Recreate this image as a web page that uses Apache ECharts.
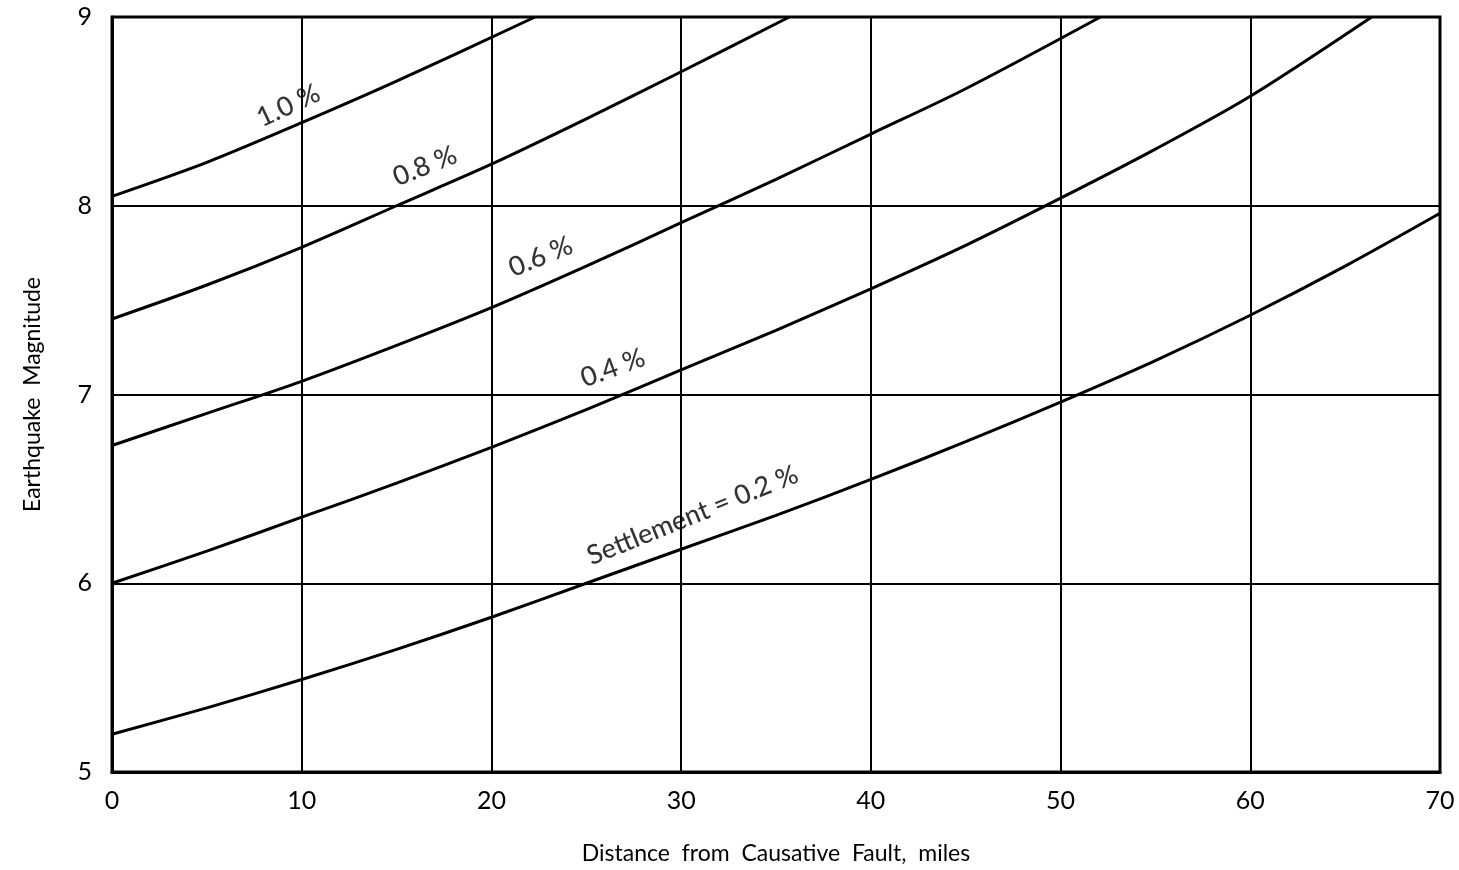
<!DOCTYPE html>
<html>
<head>
<meta charset="utf-8">
<script src="https://cdn.jsdelivr.net/npm/echarts@6/dist/echarts.min.js"></script>
<style>
html,body{margin:0;padding:0;background:#fff;}
#chart{width:1459px;height:870px;}
</style>
</head>
<body>
<div id="chart"></div>
<script>
// Curves: [distance (miles), magnitude]
var curve02 = [[0,5.20],[5,5.34],[10,5.49],[15,5.65],[20,5.82],[25,6.0],[30,6.18],[35,6.36],[40,6.55],[45,6.75],[50,6.96],[55,7.18],[60,7.42],[65,7.68],[70,7.96]];
var curve04 = [[0,6.0],[5,6.17],[10,6.35],[15,6.53],[20,6.72],[25,6.92],[30,7.13],[35,7.34],[40,7.56],[45,7.79],[50,8.04],[55,8.30],[60,8.58],[66.4,9.0]];
var curve06 = [[0,6.73],[5,6.90],[10,7.07],[15,7.26],[20,7.46],[25,7.68],[30,7.91],[35,8.14],[40,8.38],[45,8.62],[52.1,9.0]];
var curve08 = [[0,7.40],[5,7.58],[10,7.78],[15,8.0],[20,8.22],[25,8.46],[30,8.71],[35.7,9.0]];
var curve10 = [[0,8.05],[5,8.23],[10,8.44],[15,8.66],[22.3,9.0]];

var curveNames = ['Settlement = 0.2 %','0.4 %','0.6 %','0.8 %','1.0 %'];
var curveData = [curve02, curve04, curve06, curve08, curve10];
// label anchors in data units [x, y]
var labelAnchors = [[30.6,6.36],[26.4,7.14],[22.6,7.73],[16.5,8.21],[9.3,8.53]];
var labelRotations = [22,20,22,22,25];

var xTicks = [0,10,20,30,40,50,60,70];
var yTicks = [5,6,7,8,9];

var FONT = 'Lato, "DejaVu Sans", sans-serif';

var series = [];
curveData.forEach(function(d){
  series.push({
    type:'line', data:d, smooth:0.3, symbol:'none',
    lineStyle:{color:'#000', width:3}, silent:true, z:3
  });
});
series.push({
  type:'scatter', symbolSize:0, silent:true, z:5,
  data: labelAnchors.map(function(p,i){
    return {value:p, label:{show:true, formatter:curveNames[i], rotate:labelRotations[i]}};
  }),
  label:{show:true, position:'inside', color:'#000', fontSize:27, fontWeight:500, fontFamily:FONT,
    textBorderWidth:0, textBorderColor:'transparent'}
});

var chart = echarts.init(document.getElementById('chart'), null, {renderer:'canvas'});
chart.setOption({
  backgroundColor:'#fff',
  animation:false,
  grid:{left:112, right:19, top:17, bottom:97, show:true, borderColor:'#000', borderWidth:3},
  xAxis:{
    type:'value', min:0, max:70, interval:10,
    name:'Distance  from  Causative  Fault,  miles', nameLocation:'middle', nameGap:70,
    nameTextStyle:{color:'#000', fontSize:23, fontFamily:FONT},
    axisLine:{show:true, lineStyle:{color:'#000', width:3}},
    axisTick:{show:false},
    axisLabel:{color:'#000', fontSize:25, fontFamily:FONT, margin:16,
      formatter:function(v){return xTicks.indexOf(v)>=0 ? String(v) : '';}},
    splitLine:{show:true, lineStyle:{color:'#000', width:2}}
  },
  yAxis:{
    type:'value', min:5, max:9, interval:1,
    name:'Earthquake  Magnitude', nameLocation:'middle', nameGap:68, nameRotate:90,
    nameTextStyle:{color:'#000', fontSize:23, fontFamily:FONT},
    axisLine:{show:true, lineStyle:{color:'#000', width:3}},
    axisTick:{show:false},
    axisLabel:{color:'#000', fontSize:25, fontFamily:FONT, margin:20,
      formatter:function(v){return yTicks.indexOf(v)>=0 ? String(v) : '';}},
    splitLine:{show:true, lineStyle:{color:'#000', width:2}}
  },
  series:series
});
</script>
</body>
</html>
